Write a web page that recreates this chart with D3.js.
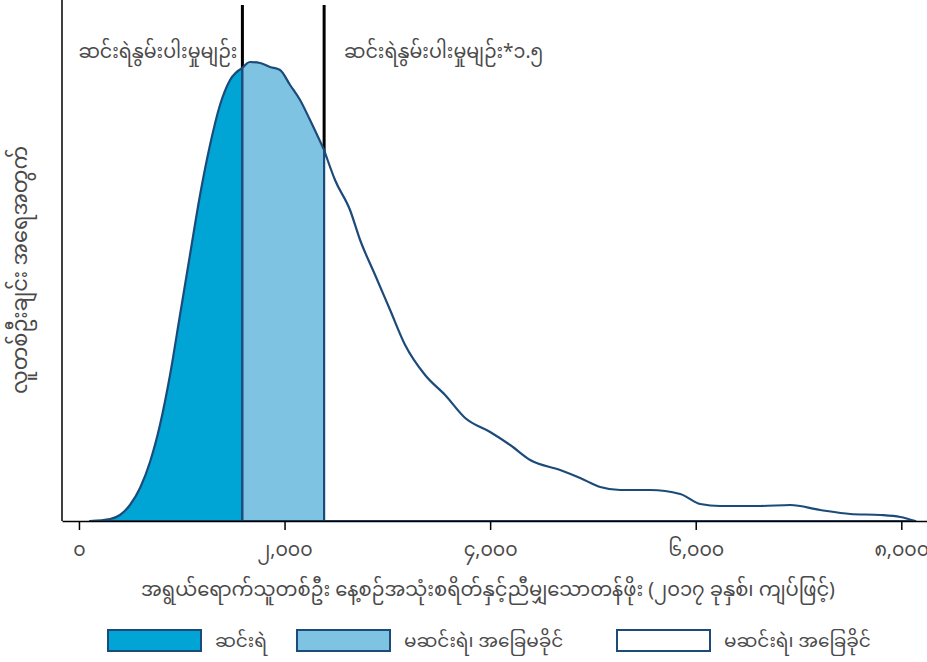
<!DOCTYPE html>
<html><head><meta charset="utf-8">
<script src="https://cdn.jsdelivr.net/npm/d3@7"></script>
<style>
body{margin:0;background:#fff;}
text{font-family:"Noto Sans Myanmar","Padauk","Myanmar Text","Noto Sans",sans-serif;}
</style></head><body><svg id="c" width="927" height="662"></svg>
<script>
// per-capita daily expenditure (2017 kyats)
const expenditure = [107,302,399,496,594,691,788,886,983,1080,1178,1275,1372,1470,1590,1664,1762,1859,1956,2054,2151,2248,2385,2491,2637,2735,2881,3027,3173,3367,3562,3757,4000,4195,4389,4681,4876,5071,5265,5557,5849,6044,6238,6628,6920,7212,7504,7796,7990,8136];
// density (x 1e-4 per kyat)
const density = [0,0.02,0.06,0.16,0.33,0.59,0.96,1.46,2.06,2.66,3.26,3.76,4.16,4.41,4.53,4.59,4.58,4.54,4.51,4.36,4.21,4.01,3.71,3.41,3.11,2.81,2.46,2.11,1.76,1.46,1.26,1.03,0.89,0.76,0.61,0.51,0.43,0.34,0.31,0.31,0.27,0.17,0.15,0.15,0.16,0.11,0.07,0.06,0.04,0];
const xTicks = [0,2000,4000,6000,8000];
const xTickLabels = ["၀","၂,၀၀၀","၄,၀၀၀","၆,၀၀၀","၈,၀၀၀"];
const povertyLine = 1590;
const nearPoorFactor = 1.5;
const lineLabels = ["ဆင်းရဲနွမ်းပါးမှုမျဉ်း","ဆင်းရဲနွမ်းပါးမှုမျဉ်း*၁.၅"];
const groupLabels = ["ဆင်းရဲ","မဆင်းရဲ၊ အခြေမခိုင်","မဆင်းရဲ၊ အခြေခိုင်"];
const groupColors = ["#00a5d5","#7fc3e2","#ffffff"];
const xTitle = "အရွယ်ရောက်သူတစ်ဦး နေ့စဉ်အသုံးစရိတ်နှင့်ညီမျှသောတန်ဖိုး (၂၀၁၇ ခုနှစ်၊ ကျပ်ဖြင့်)";
const yTitle = "လူတစ်ဦးချင်း အရေအတွက်";

const svg = d3.select("#c");
const x = d3.scaleLinear().domain([-165,8250]).range([62,927]);
const y = d3.scaleLinear().domain([0,5.16]).range([521,5]);
const navy = "#1c4b7a", txt = "#4a4a4a";
const pts = expenditure.map((k,i)=>({k, d:density[i]}));
const nearPoor = povertyLine*nearPoorFactor;
const bounds = [[-Infinity,povertyLine],[povertyLine,nearPoor],[nearPoor,Infinity]];

[povertyLine, nearPoor].forEach(v=>{
  svg.append("line").attr("x1",x(v)).attr("x2",x(v)).attr("y1",5).attr("y2",521)
    .attr("stroke","#000").attr("stroke-width",3);
});
const area = d3.area().x(p=>x(p.k)).y0(y(0)).y1(p=>y(p.d)).curve(d3.curveMonotoneX);
bounds.forEach((b,i)=>{
  const seg = pts.filter(p=>p.k>=b[0]&&p.k<=b[1]);
  svg.append("path").datum(seg).attr("d",area).attr("fill",groupColors[i])
    .attr("stroke",navy).attr("stroke-width",2.2).attr("stroke-linejoin","round");
});
svg.append("line").attr("x1",62).attr("x2",62).attr("y1",0).attr("y2",521).attr("stroke","#000").attr("stroke-width",1.5);
const ax = svg.append("g").attr("transform","translate(0,521)")
  .call(d3.axisBottom(x).tickValues(xTicks).tickFormat((d,i)=>xTickLabels[i]).tickSize(9).tickPadding(13).tickSizeOuter(0));
ax.attr("font-family",null);
ax.select(".domain").attr("stroke","#000").attr("stroke-width",1.5);
ax.selectAll(".tick line").attr("stroke","#000").attr("stroke-width",1.5);
ax.selectAll(".tick text").attr("fill",txt).style("font-size","19px");

svg.append("text").attr("x",x(povertyLine)-5).attr("y",58).attr("text-anchor","end").attr("fill",txt).style("font-size","19px").text(lineLabels[0]);
svg.append("text").attr("x",x(nearPoor)+20).attr("y",58).attr("fill",txt).style("font-size","19px").text(lineLabels[1]);

svg.append("text").attr("x",488).attr("y",596).attr("text-anchor","middle").attr("fill",txt).style("font-size","19.5px").text(xTitle);
svg.append("text").attr("transform","translate(27,270) rotate(-90)").attr("text-anchor","middle").attr("fill",txt).style("font-size","21px").text(yTitle);

const lx = [108,297,617];
groupLabels.forEach((g,i)=>{
  svg.append("rect").attr("x",lx[i]).attr("y",630).attr("width",93).attr("height",21)
    .attr("fill",groupColors[i]).attr("stroke",navy).attr("stroke-width",2);
  svg.append("text").attr("x",lx[i]+107).attr("y",647).attr("fill",txt).style("font-size","18.5px").text(g);
});
</script></body></html>
